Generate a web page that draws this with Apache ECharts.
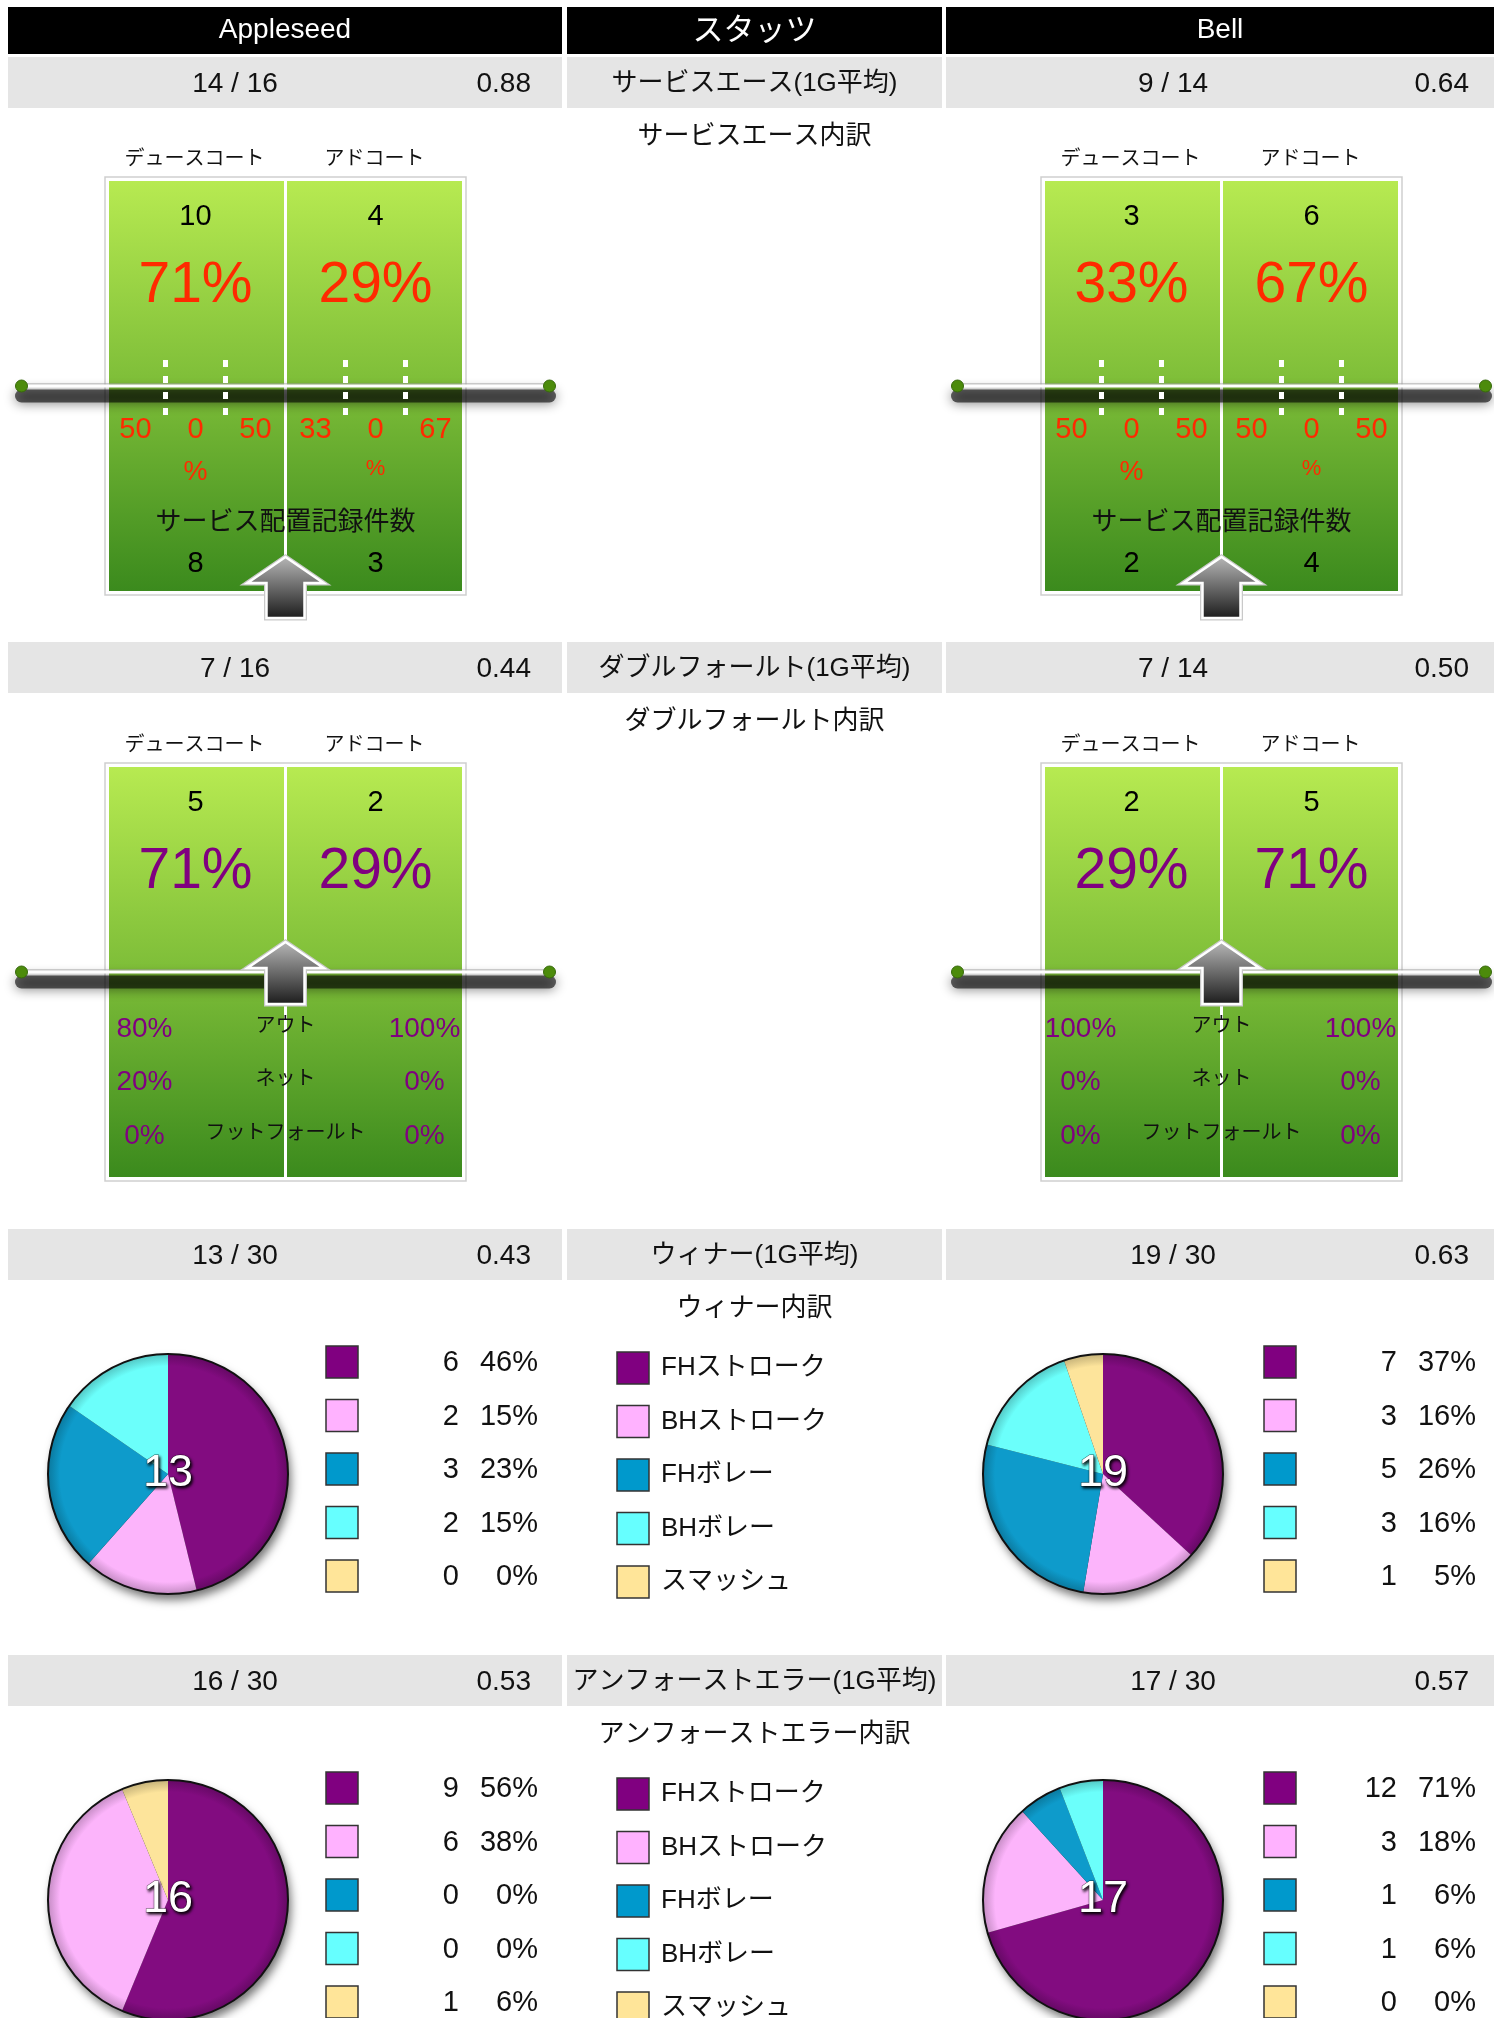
<!DOCTYPE html>
<html><head><meta charset="utf-8">
<script src="https://cdn.jsdelivr.net/npm/echarts@6/dist/echarts.min.js"></script>
<style>html,body{margin:0;padding:0;background:#fff}#c{width:1494px;height:2018px}</style>
</head><body><div id="c"></div>
<script>
const FONT = "'Liberation Sans','Noto Sans CJK JP',sans-serif";

// ---------- data ----------
const players = ['Appleseed', 'Bell'];
const middleHeader = 'スタッツ';
const statTitles = ['サービスエース(1G平均)', 'ダブルフォールト(1G平均)', 'ウィナー(1G平均)', 'アンフォーストエラー(1G平均)'];
const breakdownTitles = ['サービスエース内訳', 'ダブルフォールト内訳', 'ウィナー内訳', 'アンフォーストエラー内訳'];
const appleseedMade = [14, 7, 13, 16];
const appleseedTotal = [16, 16, 30, 30];
const appleseedAvg = ['0.88', '0.44', '0.43', '0.53'];
const bellMade = [9, 7, 19, 17];
const bellTotal = [14, 14, 30, 30];
const bellAvg = ['0.64', '0.50', '0.63', '0.57'];
const courtSides = ['デュースコート', 'アドコート'];
const serveRecordLabel = 'サービス配置記録件数';
const appleseedAceBySide = [10, 4];
const appleseedAcePct = [71, 29];
const appleseedAceScale = [[50, 0, 50], [33, 0, 67]];
const appleseedServeRecords = [8, 3];
const bellAceBySide = [3, 6];
const bellAcePct = [33, 67];
const bellAceScale = [[50, 0, 50], [50, 0, 50]];
const bellServeRecords = [2, 4];
const dfTypes = ['アウト', 'ネット', 'フットフォールト'];
const appleseedDfBySide = [5, 2];
const appleseedDfPct = [71, 29];
const appleseedDfDeuceTypes = [80, 20, 0];
const appleseedDfAdTypes = [100, 0, 0];
const bellDfBySide = [2, 5];
const bellDfPct = [29, 71];
const bellDfDeuceTypes = [100, 0, 0];
const bellDfAdTypes = [100, 0, 0];
const shotTypes = ['FHストローク', 'BHストローク', 'FHボレー', 'BHボレー', 'スマッシュ'];
const shotColors = ['#820c80', '#fcb4fb', '#0e9bcb', '#6bfffb', '#fde49b'];
const appleseedWinners = [6, 2, 3, 2, 0];
const appleseedWinnerPct = [46, 15, 23, 15, 0];
const bellWinners = [7, 3, 5, 3, 1];
const bellWinnerPct = [37, 16, 26, 16, 5];
const appleseedErrors = [9, 6, 0, 0, 1];
const appleseedErrorPct = [56, 38, 0, 0, 6];
const bellErrors = [12, 3, 1, 1, 0];
const bellErrorPct = [71, 18, 6, 6, 0];
const legendColors = ['#800080', '#ffb2ff', '#0099cc', '#66ffff', '#ffe599'];

// ---------- layout ----------
const cols = [{x: 8, w: 554}, {x: 567, w: 375}, {x: 946, w: 548}];
const sectionTops = [57, 642, 1229, 1655];
const courtCenters = [285.5, 1221.5];
const pieCenters = [168, 1103];
const RED = '#ff2a00', PURPLE = '#800080';

const els = [];
function T(x, y, text, size, color, align, z, extra) {
  align = align || 'center';
  els.push({type: 'text', x: x, y: y, z: z || 20, silent: true,
    style: Object.assign({text: String(text), font: size + 'px ' + FONT, fill: color,
      textAlign: align, textVerticalAlign: 'middle', align: align, verticalAlign: 'middle'}, extra || {})});
}
function R(x, y, w, h, style, z) {
  els.push({type: 'rect', z: z || 1, silent: true, shape: {x: x, y: y, width: w, height: h}, style: style});
}
function L(x1, y1, x2, y2, style, z) {
  els.push({type: 'line', z: z || 10, silent: true, shape: {x1: x1, y1: y1, x2: x2, y2: y2}, style: style});
}
function C(cx, cy, r, style, z) {
  els.push({type: 'circle', z: z || 10, silent: true, shape: {cx: cx, cy: cy, r: r}, style: style});
}

// header
R(cols[0].x, 7, cols[0].w, 47, {fill: '#000'});
R(cols[1].x, 7, cols[1].w, 47, {fill: '#000'});
R(cols[2].x, 7, cols[2].w, 47, {fill: '#000'});
T(cols[0].x + cols[0].w / 2, 30, players[0], 28, '#fff');
T(cols[1].x + cols[1].w / 2, 31, middleHeader, 31, '#fff');
T(1220, 30, players[1], 28, '#fff');

// gray stat rows + titles
const made = [appleseedMade, bellMade], total = [appleseedTotal, bellTotal], avg = [appleseedAvg, bellAvg];
sectionTops.forEach(function (s, i) {
  for (let k = 0; k < 3; k++) R(cols[k].x, s, cols[k].w, 51, {fill: '#e5e5e5'});
  T(cols[1].x + cols[1].w / 2, s + 27, statTitles[i], 26, '#111');
  T(cols[1].x + cols[1].w / 2, s + 80, breakdownTitles[i], 26, '#111');
  [0, 2].forEach(function (k, p) {
    T(cols[k].x + 227, s + 27, made[p][i] + ' / ' + total[p][i], 28, '#111');
    T(cols[k].x + 523, s + 27, avg[p][i], 28, '#111', 'right');
  });
});

function courtBase(c, top) {
  R(c - 180.5, top, 361, 418, {fill: '#fff', stroke: '#cfcfcf', lineWidth: 1.5}, 2);
  const g = new echarts.graphic.LinearGradient(0, 0, 0, 1, [{offset: 0, color: '#b7ea51'}, {offset: 0.5, color: '#7dbd38'}, {offset: 1, color: '#3b8a1d'}]);
  R(c - 176.5, top + 4, 175, 410, {fill: g}, 3);
  R(c + 1.5, top + 4, 175, 410, {fill: g}, 3);
  T(c - 91, top - 18, courtSides[0], 20, '#111');
  T(c + 89, top - 18, courtSides[1], 20, '#111');
}
function net(c, y) {
  const x1 = c - 264, x2 = c + 264;
  L(x1, y + 10, x2, y + 10, {stroke: 'rgba(0,0,0,0.6)', lineWidth: 13, lineCap: 'round', shadowBlur: 12, shadowColor: 'rgba(0,0,0,0.8)', shadowOffsetY: 1}, 12);
  L(x1, y - 2, x2, y - 2, {stroke: '#a0a0a0', lineWidth: 1}, 14);
  L(x1, y, x2, y, {stroke: '#fff', lineWidth: 3}, 14);
  C(x1, y, 6, {fill: '#4c8b0b', stroke: '#36690a', lineWidth: 1}, 15);
  C(x2, y, 6, {fill: '#4c8b0b', stroke: '#36690a', lineWidth: 1}, 15);
}
function arrow(c, tip, base, bottom) {
  const pts = [[c, tip], [c + 38, base], [c + 19, base], [c + 19, bottom], [c - 19, bottom], [c - 19, base], [c - 38, base]];
  els.push({type: 'polygon', z: 30, silent: true, shape: {points: pts}, style: {fill: 'none', stroke: '#c9c9c9', lineWidth: 5}});
  els.push({type: 'polygon', z: 31, silent: true, shape: {points: pts},
    style: {fill: new echarts.graphic.LinearGradient(0, 0, 0, 1, [{offset: 0, color: '#b8b8b8'}, {offset: 1, color: '#1a1a1a'}]), stroke: '#fff', lineWidth: 2.5}});
}

// ace courts
const aceCounts = [appleseedAceBySide, bellAceBySide], acePct = [appleseedAcePct, bellAcePct];
const aceScale = [appleseedAceScale, bellAceScale], serveRec = [appleseedServeRecords, bellServeRecords];
[0, 1].forEach(function (p) {
  const c = courtCenters[p], top = 177;
  courtBase(c, top);
  [-120, -60, 60, 120].forEach(function (dx) {
    L(c + dx, top + 183, c + dx, top + 238, {stroke: '#fff', lineWidth: 5, lineDash: [7, 9]}, 13);
  });
  net(c, top + 209);
  [-90, 90].forEach(function (hx, s) {
    T(c + hx, top + 40, aceCounts[p][s], 29, '#000');
    T(c + hx, top + 109, acePct[p][s] + '%', 57, RED);
    aceScale[p][s].forEach(function (v, k) { T(c + hx + (k - 1) * 60, top + 253, v, 29, RED); });
    T(c + hx, top + (s === 0 ? 296 : 292), '%', s === 0 ? 27 : 22, RED);
    T(c + hx, top + 387, serveRec[p][s], 29, '#000');
  });
  T(c, top + 346, serveRecordLabel, 26, '#111');
  arrow(c, top + 380, top + 406, top + 441);
});

// double fault courts
const dfCounts = [appleseedDfBySide, bellDfBySide], dfPct = [appleseedDfPct, bellDfPct];
const dfDeuce = [appleseedDfDeuceTypes, bellDfDeuceTypes], dfAd = [appleseedDfAdTypes, bellDfAdTypes];
[0, 1].forEach(function (p) {
  const c = courtCenters[p], top = 763;
  courtBase(c, top);
  net(c, top + 209);
  [-90, 90].forEach(function (hx, s) {
    T(c + hx, top + 40, dfCounts[p][s], 29, '#000');
    T(c + hx, top + 109, dfPct[p][s] + '%', 57, PURPLE);
  });
  dfTypes.forEach(function (lab, k) {
    const y = top + 266 + k * 53.5;
    T(c - 141, y, dfDeuce[p][k] + '%', 28, PURPLE);
    T(c + 139, y, dfAd[p][k] + '%', 28, PURPLE);
    T(c, y - 3, lab, 20, '#111');
  });
  arrow(c, top + 179, top + 205, top + 241);
});

// pies + legends
const series = [];
function shade(hex, f) {
  const n = parseInt(hex.slice(1), 16);
  const r = Math.round(((n >> 16) & 255) * f), g = Math.round(((n >> 8) & 255) * f), b = Math.round((n & 255) * f);
  return 'rgb(' + r + ',' + g + ',' + b + ')';
}
function pie(cx, cy, values) {
  const R0 = 120;
  series.push({
    type: 'pie', center: [cx, cy], radius: R0, z: 1, silent: true, animation: false,
    label: {show: false}, labelLine: {show: false}, emphasis: {disabled: true},
    itemStyle: {color: '#222', borderWidth: 0, shadowBlur: 10, shadowOffsetX: 3, shadowOffsetY: 6, shadowColor: 'rgba(0,0,0,0.55)'},
    data: [{value: 1, name: 'shadow'}]
  });
  series.push({
    type: 'pie', center: [cx, cy], radius: R0, startAngle: 90, clockwise: true, z: 2,
    silent: true, animation: false, label: {show: false}, labelLine: {show: false},
    itemStyle: {borderWidth: 0}, emphasis: {disabled: true},
    data: values.map(function (v, i) {
      return {value: v, name: shotTypes[i], itemStyle: {color: new echarts.graphic.RadialGradient(cx, cy, R0, [
        {offset: 0, color: shotColors[i]}, {offset: 0.9, color: shotColors[i]}, {offset: 1, color: shade(shotColors[i], 0.78)}], true)}};
    })
  });
  C(cx, cy, R0, {fill: 'none', stroke: '#111', lineWidth: 2}, 5);
  const tot = values.reduce(function (a, b) { return a + b; }, 0);
  T(cx, cy, tot, 45, '#fff', 'center', 40, {stroke: 'rgba(0,0,0,0.6)', lineWidth: 1, textShadowBlur: 3, textShadowColor: '#000', textShadowOffsetX: 1.5, textShadowOffsetY: 1.5});
}
function playerLegend(colX, top, values, pcts) {
  values.forEach(function (v, i) {
    const y = top + 133 + i * 53.5;
    R(colX + 318, y - 16, 32, 32, {fill: legendColors[i], stroke: '#333', lineWidth: 1.5}, 5);
    T(colX + 451, y + 1, v, 29, '#111', 'right');
    T(colX + 530, y + 1, pcts[i] + '%', 29, '#111', 'right');
  });
}
function middleLegend(top) {
  shotTypes.forEach(function (lab, i) {
    const y = top + 139 + i * 53.5;
    R(617, y - 16, 32, 32, {fill: legendColors[i], stroke: '#333', lineWidth: 1.5}, 5);
    T(661, y, lab, 26, '#111', 'left');
  });
}
const s3 = sectionTops[2], s4 = sectionTops[3];
pie(pieCenters[0], s3 + 245, appleseedWinners);
pie(pieCenters[1], s3 + 245, bellWinners);
playerLegend(cols[0].x, s3, appleseedWinners, appleseedWinnerPct);
playerLegend(cols[2].x, s3, bellWinners, bellWinnerPct);
middleLegend(s3);
pie(pieCenters[0], s4 + 245, appleseedErrors);
pie(pieCenters[1], s4 + 245, bellErrors);
playerLegend(cols[0].x, s4, appleseedErrors, appleseedErrorPct);
playerLegend(cols[2].x, s4, bellErrors, bellErrorPct);
middleLegend(s4);

const chart = echarts.init(document.getElementById('c'), null, {renderer: 'canvas', width: 1494, height: 2018});
chart.setOption({
  animation: false,
  backgroundColor: '#fff',
  series: series,
  graphic: {elements: els}
});
</script></body></html>
